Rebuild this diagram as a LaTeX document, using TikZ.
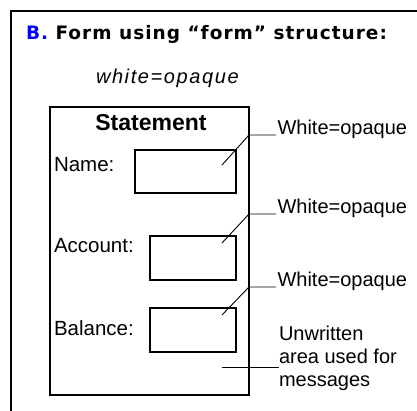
\documentclass[tikz,border=0pt]{standalone}
\usepackage{fontspec}
\setmainfont{Liberation Sans}
\newfontfamily\titlefont[LetterSpace=5.5]{DejaVu Sans}
\newfontfamily\notefont[LetterSpace=8]{Liberation Sans}
\definecolor{headblue}{RGB}{0,0,255}
\begin{document}
\begin{tikzpicture}[x=1pt,y=-1pt,
  every node/.style={inner sep=0pt, outer sep=0pt},
  panel/.style={draw=black, line width=2.5pt},
  formbox/.style={draw=black, line width=1.4pt, anchor=north west},
  fieldbox/.style={draw=black, line width=1.2pt, anchor=north west},
  leader/.style={draw=black, line width=0.9pt},
  fieldlabel/.style={anchor=base west, font=\fontsize{20.5}{23}\selectfont},
  calloutlabel/.style={anchor=base west, inner xsep=1.5pt, font=\fontsize{20}{23}\selectfont},
]
\useasboundingbox (0,0) rectangle (417,411);
\fill[white] (0,0) rectangle (417,411);

% surrounding panel, open to the right and bottom
\draw[panel] (11,415) -- (11,11) -- (420,11);

% heading
\node[anchor=base west] (title) at (26,40)
  {\titlefont\fontsize{18.5}{20}\selectfont\bfseries\textcolor{headblue}{B.} Form using “form” structure:};
\node[anchor=base west] (note) at (96,84)
  {\notefont\fontsize{20}{22}\selectfont\itshape white=opaque};

% the form and its fields
\node[formbox, minimum width=199pt, minimum height=288pt] (form) at (50,107) {};
\node[anchor=base] (formtitle) at (151,131)
  {\fontsize{23}{25}\selectfont\bfseries Statement};

\node[fieldbox, minimum width=101pt, minimum height=43pt] (namebox) at (135,150) {};
\node[fieldbox, minimum width=86pt, minimum height=44pt] (accountbox) at (150,236) {};
\node[fieldbox, minimum width=86pt, minimum height=44pt] (balancebox) at (150,308) {};

\node[fieldlabel] (namelbl) at (54,172) {Name:};
\node[fieldlabel] (accountlbl) at (54,253) {Account:};
\node[fieldlabel] (balancelbl) at (54,335) {Balance:};

% callout labels
\node[calloutlabel] (op1) at (276,135) {White=opaque};
\node[calloutlabel] (op2) at (276,214) {White=opaque};
\node[calloutlabel] (op3) at (276,287) {White=opaque};
\node[anchor=north west, align=left, font=\fontsize{20}{23}\selectfont] (msg) at (279,326.5)
  {Unwritten\\area used for\\messages};

% leader points
\coordinate (tip1) at (222,165);
\coordinate (bend1) at (249,135);
\coordinate (tip2) at (222,243);
\coordinate (bend2) at (249,214);
\coordinate (tip3) at (222,315);
\coordinate (bend3) at (249,287);
\coordinate (tip4) at (222,367);

% leader lines
\draw[leader] (tip1) -- (bend1) -- (op1.base west);
\draw[leader] (tip2) -- (bend2) -- (op2.base west);
\draw[leader] (tip3) -- (bend3) -- (op3.base west);
\draw[leader] (tip4) -- (tip4 -| msg.west);
\end{tikzpicture}
\end{document}
